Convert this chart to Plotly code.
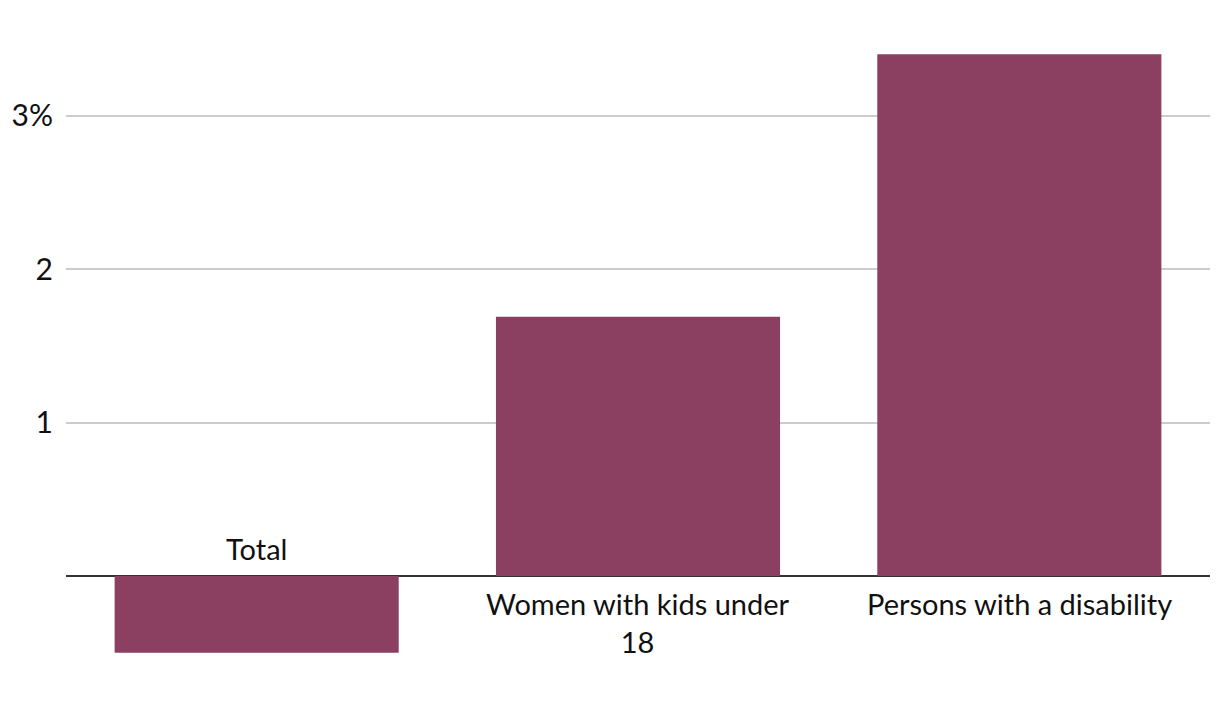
import plotly.graph_objects as go

categories = ["Total", "Women with kids under<br>18", "Persons with a disability"]
values = [-0.5, 1.69, 3.4]
tick_vals = [1, 2, 3]
tick_text = ["1", "2", "3%"]

BAR = "#8b3f61"
FONT = "Lato"
FS = 29

fig = go.Figure()
fig.add_trace(go.Bar(x=categories, y=values, marker_color=BAR, marker_line_width=0, hoverinfo="skip"))

for c, v in zip(categories, values):
    if v >= 0:
        fig.add_annotation(x=c, y=0, text=c, showarrow=False, yanchor="top", yshift=-8,
                           font=dict(family=FONT, size=FS, color="#111"))
    else:
        fig.add_annotation(x=c, y=0, text=c, showarrow=False, yanchor="bottom", yshift=8,
                           font=dict(family=FONT, size=FS, color="#111"))

fig.update_layout(
    width=1220, height=714,
    margin=dict(l=58, r=18, t=31, b=31, autoexpand=False),
    paper_bgcolor="white", plot_bgcolor="white",
    bargap=0.255,
    showlegend=False,
    font=dict(family=FONT, size=FS, color="#111"),
    xaxis=dict(showticklabels=False, showgrid=False, zeroline=False, showline=False, ticks="",
               automargin=False),
    yaxis=dict(range=[-0.75, 3.5], tickvals=tick_vals, ticktext=tick_text,
               showgrid=True, gridcolor="#cccccc", gridwidth=1.5,
               zeroline=True, zerolinecolor="#333333", zerolinewidth=2,
               showline=False, ticks="", ticklabelstandoff=12, automargin=False,
               tickfont=dict(family=FONT, size=30, color="#111")),
)

fig.write_html("out.html")
